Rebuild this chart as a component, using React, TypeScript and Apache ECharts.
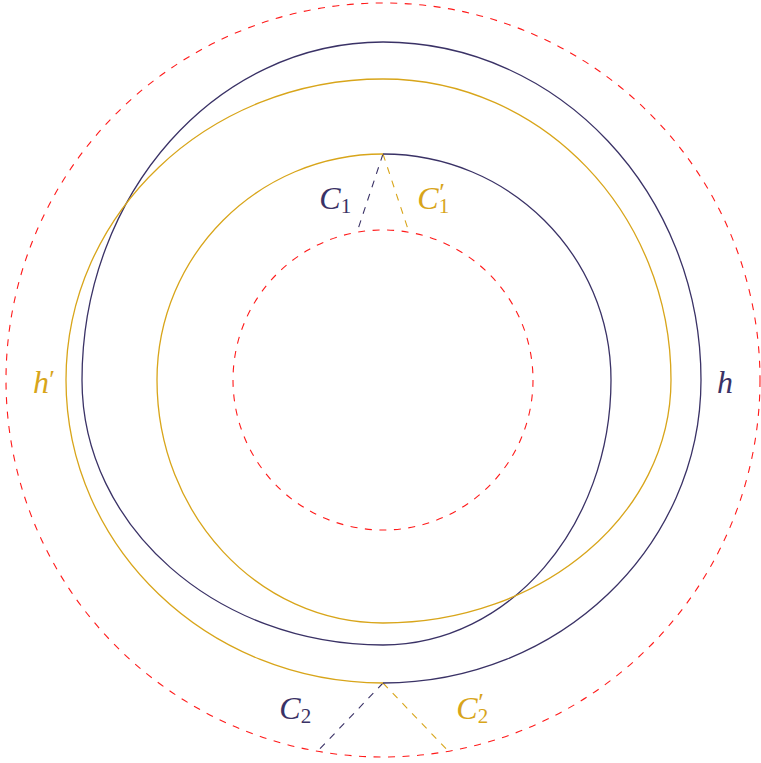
import React, { useEffect, useRef } from "react";
import * as echarts from "echarts";

// Colours of the two loops and the boundary circles
const NAVY = "#3a3266";
const GOLD = "#d8a51a";
const RED = "#ff1a1a";

// Dashed boundary circles (radius, centred at the origin)
const boundaryRadii = [377, 150];

// Loop radii at every quarter turn, starting at the top.
// h turns clockwise, h' turns counter-clockwise.
const hRadii = [226, 228, 265, 301, 338, 318, 303];
const hPrimeRadii = [226, 226, 243, 288, 301, 317, 303];

// Connector segments: [radius, angle clockwise from top in degrees]
const connectorStarts = [
  [226, 0],
  [226, 0],
  [303, 180],
  [303, 180],
];
const connectorEnds = [
  [150, -10],
  [150, 10],
  [377, 190],
  [377, 170],
];
const connectorColors = [NAVY, GOLD, NAVY, GOLD];

// Labels: letter, subscript, prime, anchor (data coords of the letter centre)
const labelLetters = ["C", "C", "h", "h", "C", "C"];
const labelSubs = ["1", "1", "", "", "2", "2"];
const labelPrimes = [false, true, true, false, false, true];
const labelColors = [NAVY, GOLD, GOLD, NAVY, NAVY, GOLD];
const labelAnchors = [
  [-53, 182],
  [45, 182],
  [-342, -2],
  [342, -2],
  [-93, -328],
  [84, -328],
];

const KAPPA = 0.5523;

function polarToXY(r: number, deg: number): number[] {
  const a = (deg * Math.PI) / 180;
  return [r * Math.sin(a), r * Math.cos(a)];
}

function loopPath(api: any, radii: number[], dir: number): string {
  const units = radii.map((_, k) => polarToXY(1, k * 90 * dir));
  const pts = radii.map((r, k) => [r * units[k][0], r * units[k][1]]);
  const p0 = api.coord(pts[0]);
  let d = `M ${p0[0]} ${p0[1]}`;
  for (let k = 0; k < pts.length - 1; k++) {
    const a = pts[k];
    const b = pts[k + 1];
    const c1 = [a[0] + KAPPA * radii[k + 1] * units[k + 1][0], a[1] + KAPPA * radii[k + 1] * units[k + 1][1]];
    const c2 = [b[0] + KAPPA * radii[k] * units[k][0], b[1] + KAPPA * radii[k] * units[k][1]];
    const q1 = api.coord(c1);
    const q2 = api.coord(c2);
    const q3 = api.coord(b);
    d += ` C ${q1[0]} ${q1[1]} ${q2[0]} ${q2[1]} ${q3[0]} ${q3[1]}`;
  }
  return d;
}

const MAIN_FONT = "italic 32px Liberation Serif";
const SUB_FONT = "21px Liberation Serif";
const PRIME_FONT = "26px Liberation Serif";

export default function App() {
  const ref = useRef<HTMLDivElement>(null);

  useEffect(() => {
    if (!ref.current) return;
    const chart = echarts.init(ref.current, null, { renderer: "svg" });

    const loops = [
      { radii: hRadii, dir: 1, color: NAVY },
      { radii: hPrimeRadii, dir: -1, color: GOLD },
    ];

    chart.setOption({
      animation: false,
      grid: { left: 0, right: 0, top: 0, bottom: 0, containLabel: false },
      xAxis: { type: "value", min: -383, max: 378, show: false },
      yAxis: { type: "value", min: -383, max: 380, show: false },
      series: [
        {
          type: "custom",
          name: "boundary",
          silent: true,
          data: boundaryRadii.map(() => [0, 0]),
          renderItem: (params: any, api: any) => {
            const r = boundaryRadii[params.dataIndex];
            const c = api.coord([0, 0]);
            const pr = api.size([r, 0])[0];
            return {
              type: "circle",
              shape: { cx: c[0], cy: c[1], r: pr },
              style: { fill: "none", stroke: RED, lineWidth: 1.1, lineDash: [7, 7.5] },
            };
          },
        },
        {
          type: "custom",
          name: "connectors",
          silent: true,
          data: connectorStarts.map(() => [0, 0]),
          renderItem: (params: any, api: any) => {
            const i = params.dataIndex;
            const s = api.coord(polarToXY(connectorStarts[i][0], connectorStarts[i][1]));
            const e = api.coord(polarToXY(connectorEnds[i][0], connectorEnds[i][1]));
            return {
              type: "line",
              shape: { x1: s[0], y1: s[1], x2: e[0], y2: e[1] },
              style: { stroke: connectorColors[i], lineWidth: 1.1, lineDash: [7, 7] },
            };
          },
        },
        {
          type: "custom",
          name: "loops",
          silent: true,
          data: loops.map(() => [0, 0]),
          renderItem: (params: any, api: any) => {
            const l = loops[params.dataIndex];
            return {
              type: "path",
              shape: { pathData: loopPath(api, l.radii, l.dir) },
              style: { fill: "none", stroke: l.color, lineWidth: 1.3 },
            };
          },
        },
        {
          type: "custom",
          name: "labels",
          silent: true,
          data: labelAnchors.map(() => [0, 0]),
          renderItem: (params: any, api: any) => {
            const i = params.dataIndex;
            const p = api.coord(labelAnchors[i]);
            const color = labelColors[i];
            const isC = labelLetters[i] === "C";
            const children: any[] = [
              {
                type: "text",
                x: p[0],
                y: p[1],
                style: {
                  text: labelLetters[i],
                  fill: color,
                  font: MAIN_FONT,
                  lineHeight: 22,
                  align: "center",
                  verticalAlign: "middle",
                },
              },
            ];
            if (labelSubs[i]) {
              children.push({
                type: "text",
                x: p[0] + 16,
                y: p[1] + 8,
                style: {
                  text: labelSubs[i],
                  fill: color,
                  font: SUB_FONT,
                  lineHeight: 9,
                  align: "center",
                  verticalAlign: "middle",
                },
              });
            }
            if (labelPrimes[i]) {
              children.push({
                type: "text",
                x: p[0] + (isC ? 14 : 11),
                y: p[1] + (isC ? -6 : -3),
                style: {
                  text: "\u2032",
                  fill: color,
                  font: PRIME_FONT,
                  lineHeight: 4,
                  align: "center",
                  verticalAlign: "middle",
                },
              });
            }
            return { type: "group", children };
          },
        },
      ],
    });

    return () => chart.dispose();
  }, []);

  return (
    <div
      ref={ref}
      style={{ position: "absolute", left: 0, top: 0, width: 761, height: 763 }}
    />
  );
}
